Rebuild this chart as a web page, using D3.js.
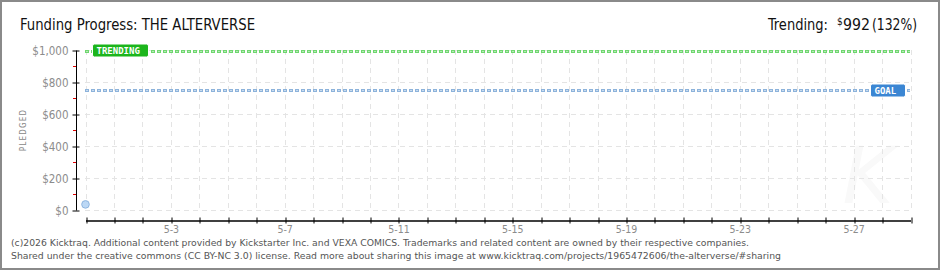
<!DOCTYPE html>
<html>
<head>
<meta charset="utf-8">
<script src="https://cdn.jsdelivr.net/npm/d3@7"></script>
<style>
  body { margin: 0; background: #fff; }
  svg { display: block; }
</style>
</head>
<body>
<div id="chart"></div>
<script>
// funding data (Kicktraq style)
const title = "Funding Progress: THE ALTERVERSE";
const startDate = "2025-04-30";
const endDate = "2025-05-29";
const pledgeDates = ["2025-04-30"];
const pledgeValues = [35];
const goal = 750;
const trending = 992;
const yTicks = [0, 200, 400, 600, 800, 1000];
const xLabelDays = ["2025-05-03", "2025-05-07", "2025-05-11", "2025-05-15", "2025-05-19", "2025-05-23", "2025-05-27"];
const footer = [
  "(c)2026 Kicktraq. Additional content provided by Kickstarter Inc. and VEXA COMICS. Trademarks and related content are owned by their respective companies.",
  "Shared under the creative commons (CC BY-NC 3.0) license. Read more about sharing this image at www.kicktraq.com/projects/1965472606/the-alterverse/#sharing"
];

const width = 940, height = 270;
const parse = d3.timeParse("%Y-%m-%d");
const svg = d3.select("#chart").append("svg")
  .attr("width", width).attr("height", height);

// frame
svg.append("rect").attr("x", 1).attr("y", 1).attr("width", width - 2).attr("height", height - 2)
  .attr("fill", "#fff").attr("stroke", "#8a8a8a").attr("stroke-width", 2);

const x = d3.scaleTime().domain([parse(startDate), parse(endDate)]).range([85.5, 910.5]);
const y = d3.scaleLinear().domain([0, 1000]).range([210, 50]);

// watermark K
svg.append("text").attr("x", 868).attr("y", 203).attr("text-anchor", "middle")
  .attr("font-family", "DejaVu Sans").attr("font-style", "italic").attr("font-size", 78)
  .attr("fill", "#f9f9f9").text("K");

// grid
const days = d3.timeDay.range(parse(startDate), d3.timeDay.offset(parse(endDate), 1));
svg.append("g").selectAll("line").data(days).join("line")
  .attr("x1", d => Math.round(x(d)) + 0.5).attr("x2", d => Math.round(x(d)) + 0.5)
  .attr("y1", 50).attr("y2", 210)
  .attr("stroke", "#e4e4e4").attr("stroke-dasharray", "5,4");
svg.append("g").selectAll("line").data(yTicks).join("line")
  .attr("x1", 85).attr("x2", 911)
  .attr("y1", d => y(d) + 0.5).attr("y2", d => y(d) + 0.5)
  .attr("stroke", "#e4e4e4").attr("stroke-dasharray", "5,4");

// y axis
const yAxis = svg.append("g").attr("transform", "translate(76.5,0.5)")
  .call(d3.axisLeft(y).tickValues(yTicks).tickSize(4).tickFormat(d => "$" + d3.format(",")(d)));
yAxis.select(".domain").attr("stroke", "#000").attr("d", "M0,50V210");
yAxis.selectAll(".tick line").attr("stroke", "#000").attr("x2", 3).attr("x1", -4);
yAxis.selectAll(".tick text").attr("x", -8)
  .attr("fill", "#8c8c8c").attr("font-family", "DejaVu Sans Condensed")
  .attr("font-size", 11.5);
// red minor ticks
svg.append("g").selectAll("line").data(d3.range(100, 1000, 200)).join("line")
  .attr("x1", 73).attr("x2", 76).attr("y1", d => y(d) + 0.5).attr("y2", d => y(d) + 0.5)
  .attr("stroke", "#e00000");

svg.append("text").attr("transform", "translate(26,130) rotate(-90)")
  .attr("text-anchor", "middle").attr("font-family", "DejaVu Sans Condensed")
  .attr("font-size", 8).attr("letter-spacing", 1.2)
  .attr("fill", "#888").text("PLEDGED");

// x axis
const labelSet = new Set(xLabelDays);
const fmt = d3.timeFormat("%Y-%m-%d");
const xAxis = svg.append("g").attr("transform", "translate(0,220.5)")
  .call(d3.axisBottom(x).tickValues(days).tickSizeInner(3).tickSizeOuter(0)
    .tickFormat(d => labelSet.has(fmt(d)) ? (d.getMonth() + 1) + "-" + d.getDate() : ""));
xAxis.select(".domain").attr("stroke", "#000").attr("stroke-width", 1.5);
xAxis.selectAll(".tick line").attr("stroke", "#000").attr("y1", -3).attr("y2", 3)
  .attr("transform", d => "translate(" + (Math.round(x(d)) + 0.5 - x(d)) + ",0)");
xAxis.selectAll(".tick text").attr("y", 5)
  .attr("fill", "#8c8c8c").attr("font-family", "DejaVu Sans Condensed")
  .attr("font-size", 10.5);

// goal and trending lines
function refLine(val, fill, dark) {
  const yy = Math.round(y(val)) + 0.5;
  svg.append("line").attr("x1", 85).attr("x2", 910).attr("y1", yy).attr("y2", yy)
    .attr("stroke", dark).attr("stroke-width", 3).attr("stroke-dasharray", "4,2");
  svg.append("line").attr("x1", 86).attr("x2", 910).attr("y1", yy).attr("y2", yy)
    .attr("stroke", fill).attr("stroke-width", 1).attr("stroke-dasharray", "2,4");
  return yy;
}
const ty = refLine(trending, "#b5ecb5", "#6fd66f");
const gy = refLine(goal, "#c9dcef", "#8db3db");

function badge(cx, cy, w, label, color) {
  svg.append("rect").attr("x", cx - w / 2).attr("y", cy - 6.5).attr("width", w).attr("height", 13)
    .attr("rx", 2).attr("fill", color).attr("stroke", "#fff").attr("stroke-width", 1);
  svg.append("text").attr("x", cx - w / 2 + 4).attr("y", cy + 3.5)
    .attr("font-family", "DejaVu Sans Mono").attr("font-weight", "bold").attr("font-size", 9)
    .attr("fill", "#fff").text(label);
}
badge(120.5, ty - 1, 56, "TRENDING", "#1cb51c");
badge(888, gy, 35, "GOAL", "#3b86d3");

// pledged points
svg.append("g").selectAll("circle").data(pledgeDates).join("circle")
  .attr("cx", d => x(parse(d))).attr("cy", (d, i) => y(pledgeValues[i]))
  .attr("r", 3.8).attr("fill", "#bcd8f5").attr("stroke", "#8fb6e0");

// titles
const head = { "font-family": "DejaVu Sans Condensed", "font-size": 16, "fill": "#111", "lengthAdjust": "spacingAndGlyphs" };
function headText(xx, yy, txt, len, extra) {
  const t = svg.append("text").attr("x", xx).attr("y", yy).text(txt);
  Object.entries(Object.assign({}, head, extra || {})).forEach(([k, v]) => t.attr(k, v));
  if (len) t.attr("textLength", len);
  return t;
}
headText(20, 30, title, 235);
headText(768, 30, "Trending:", 60);
headText(837, 25, "$", null, { "font-size": 10 });
headText(843, 30, d3.format(",")(trending), 27);
headText(872, 30, "(" + Math.round(trending / goal * 100) + "%)", 45);

// footer
svg.append("g").selectAll("text").data(footer).join("text")
  .attr("x", 11).attr("y", (d, i) => 246 + i * 13)
  .attr("font-family", "DejaVu Sans").attr("font-size", 9.5)
  .attr("textLength", (d, i) => i === 0 ? 738 : 770).attr("lengthAdjust", "spacingAndGlyphs")
  .attr("fill", "#555").text(d => d);
</script>
</body>
</html>
